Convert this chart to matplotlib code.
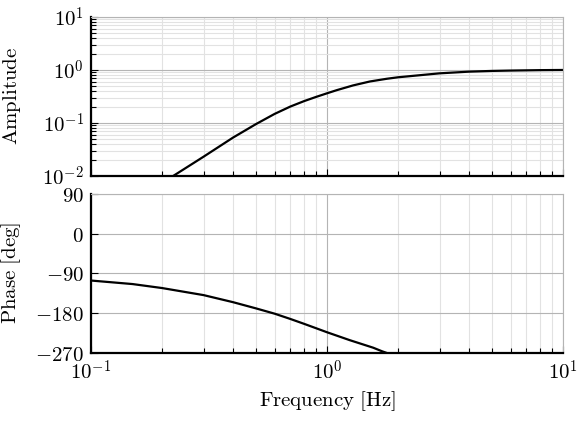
import numpy as np
import matplotlib
matplotlib.use("Agg")
from matplotlib import pyplot as plt
from matplotlib.ticker import LogLocator, FixedLocator, NullFormatter, FuncFormatter

# values
freq_amp = [0.1, 0.223, 0.3, 0.4, 0.5, 0.6, 0.7, 0.8, 0.9, 1.0, 1.1,
            1.29, 1.52, 1.79, 2.0, 2.48, 3.0, 4.0, 5.0, 6.0, 8.0, 10.0]
amp = [0.0009, 0.01, 0.0231, 0.053, 0.095, 0.148, 0.204, 0.258, 0.31, 0.362, 0.415,
       0.51, 0.605, 0.68, 0.726, 0.795, 0.862, 0.927, 0.957, 0.972, 0.99, 0.997]

freq_ph = [0.1, 0.15, 0.2, 0.3, 0.4, 0.5, 0.6, 0.7, 0.8, 0.9, 1.0,
           1.25, 1.57, 1.71, 2.0, 3.0, 5.0, 10.0]
phase = [-106, -114, -123, -139, -155, -169, -181, -193, -204, -214, -223,
         -241, -258, -266, -279, -305, -330, -355]

phase_ticks = [90, 0, -90, -180, -270]
phase_labels = [r"$90$", r"$0$", r"$-90$", r"$-180$", r"$-270$"]

plt.rcParams['mathtext.fontset'] = 'cm'
plt.rcParams['font.size'] = 15

fig = plt.figure(figsize=(5.87, 4.22), dpi=100)
ax1 = fig.add_axes([0.155, 0.583, 0.804, 0.377])
ax2 = fig.add_axes([0.155, 0.1635, 0.804, 0.377], sharex=ax1)

major_c = "#b4b4b4"
minor_c = "#e2e2e2"
pow10 = FuncFormatter(lambda v, pos: r"$10^{%d}$" % int(round(np.log10(v))))

for ax in (ax1, ax2):
    ax.set_xscale("log")
    ax.set_xlim(0.1, 10)
    ax.grid(True, which="major", color=major_c, lw=0.8)
    ax.grid(True, which="minor", color=minor_c, lw=0.8)
    ax.set_axisbelow(True)
    for s in ("top", "right"):
        ax.spines[s].set_color(major_c)
        ax.spines[s].set_linewidth(0.8)
    for s in ("left", "bottom"):
        ax.spines[s].set_color("black")
        ax.spines[s].set_linewidth(1.6)
    ax.tick_params(which="both", direction="in", top=False, right=False, width=0.8)
    ax.tick_params(which="major", length=5, pad=5)
    ax.tick_params(which="minor", length=3.5)
    ax.xaxis.set_major_locator(LogLocator(base=10, numticks=10))
    ax.xaxis.set_minor_locator(LogLocator(base=10, subs=np.arange(2, 10), numticks=20))
    ax.xaxis.set_major_formatter(pow10)
    ax.xaxis.set_minor_formatter(NullFormatter())

# amplitude
ax1.plot(freq_amp, amp, color="black", lw=1.6)
ax1.set_yscale("log")
ax1.set_ylim(1e-2, 1e1)
ax1.yaxis.set_major_locator(LogLocator(base=10, numticks=10))
ax1.yaxis.set_minor_locator(LogLocator(base=10, subs=np.arange(2, 10), numticks=20))
ax1.yaxis.set_major_formatter(pow10)
ax1.yaxis.set_minor_formatter(NullFormatter())
ax1.set_ylabel(r"$\mathrm{Amplitude}$")
ax1.yaxis.set_label_coords(-0.145, 0.5)
ax1.tick_params(axis="x", labelbottom=False)

# phase
ax2.plot(freq_ph, phase, color="black", lw=1.6)
ax2.set_ylim(-270, 90)
ax2.yaxis.set_major_locator(FixedLocator(phase_ticks))
ax2.set_yticklabels(phase_labels)
ax2.set_ylabel(r"$\mathrm{Phase\ [deg]}$")
ax2.yaxis.set_label_coords(-0.145, 0.5)
ax2.set_xlabel(r"$\mathrm{Frequency\ [Hz]}$")

fig.savefig("out.png", dpi=100)
